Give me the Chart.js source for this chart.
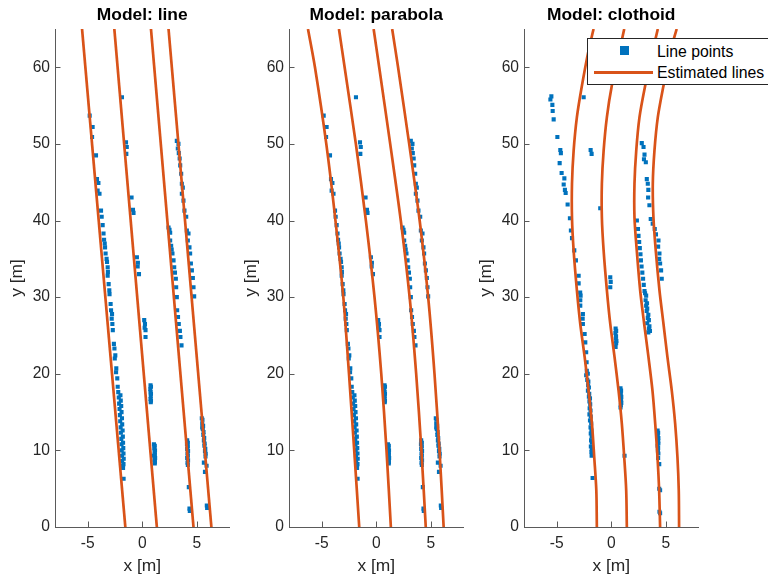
<!DOCTYPE html>
<html>
<head>
<meta charset="utf-8">
<script src="https://cdn.jsdelivr.net/npm/chart.js@4.4.0/dist/chart.umd.min.js"></script>
<style>
  body { margin: 0; width: 768px; height: 583px; overflow: hidden; background: #fff; position: relative;
         font-family: "Liberation Sans", Arial, Helvetica, sans-serif; }
  canvas { position: absolute; top: 0; }
  #legend { position: absolute; left: 587px; top: 38px; width: 200px; height: 47px; box-sizing: border-box;
            border: 1px solid #262626; background: #fff; font-size: 15.8px; color: #000; }
  #legend .mk { position: absolute; left: 32px; top: 7px; width: 9px; height: 9px; background: #0072BD; }
  #legend .ln { position: absolute; left: 6px; top: 32px; width: 59px; height: 2.7px; background: #D95319; }
  #legend .lbl { position: absolute; left: 69px; line-height: 18px; white-space: nowrap; }
</style>
</head>
<body>
<canvas id="plotLine" width="234" height="583" style="left:0"></canvas>
<canvas id="plotParabola" width="234" height="583" style="left:234px"></canvas>
<canvas id="plotClothoid" width="299" height="583" style="left:469px"></canvas>
<div id="legend">
  <span class="mk"></span><span class="lbl" style="top:3.5px">Line points</span>
  <span class="ln"></span><span class="lbl" style="top:24.5px">Estimated lines</span>
</div>
<script>
// ---------------------------
// Data
// ---------------------------
const xTicks = [-5, 0, 5];
const yTicks = [0, 10, 20, 30, 40, 50, 60];

// detected lane points, used by the line and parabola fits
const scanX = [
  -4.82,-4.55,-4.60,-4.24,-4.15,-4.02,-4.09,-3.92,-3.78,-3.72,-3.63,-3.55,-3.50,-3.44,-3.41,-3.36,-3.27,-3.23,-3.17,-3.15,
  -3.17,-3.08,-3.02,-3.00,-2.90,-2.86,-2.77,-2.80,-2.74,-2.70,-2.60,-2.55,-2.47,-2.52,-2.38,-2.40,-2.29,-2.25,-2.20,-2.15,
  -2.12,-2.08,-2.05,-2.02,-1.98,-1.96,-1.92,-1.90,-1.88,-1.86,-1.84,-1.83,-1.71,
  -2.00,-1.97,-1.93,-1.90,-1.86,-1.84,-1.80,-1.78,-1.76,-1.74,-1.72,-1.70,-1.72,-1.76,
  -1.86,-1.49,-1.42,-1.46,-0.98,-0.85,-0.80,-0.49,-0.40,-0.42,-0.30,0.18,0.25,0.22,0.30,0.30,
  0.76,0.74,0.76,0.78,0.76,0.78,0.80,0.80,0.80,1.07,1.10,1.13,1.08,1.12,1.15,1.15,1.17,1.16,1.18,1.16,
  2.41,2.50,2.56,2.56,2.65,2.70,2.77,2.87,2.93,3.00,3.08,3.11,3.17,3.20,3.28,3.35,3.45,3.50,3.60,
  4.12,4.10,4.12,4.15,4.12,4.15,4.18,4.18,4.20,4.18,4.20,4.18,4.27,4.33,4.36,
  3.17,3.32,3.26,3.35,3.43,3.48,3.57,3.63,3.72,3.63,3.78,3.87,4.03,4.09,4.24,4.18,4.33,4.39,4.46,4.55,
  4.64,4.70,4.76,5.46,5.50,5.55,5.60,5.65,5.70,5.75,5.80,5.65,5.90,5.75,5.92,5.95,
  5.52,5.58,5.62,5.68,5.72,5.78,5.82,5.50
];
const scanY = [
  53.7,52.2,50.9,48.5,45.4,44.9,43.9,43.5,41.3,40.5,39.4,38.3,37.5,37.0,36.5,35.7,35.0,34.6,33.9,33.3,
  32.8,31.7,30.9,30.4,29.1,28.3,27.8,27.2,26.5,25.7,23.9,23.3,22.4,22.0,20.7,20.2,19.4,18.3,17.6,16.9,
  16.1,15.4,14.6,13.8,13.0,12.3,11.5,10.8,10.0,9.3,8.6,8.0,6.3,
  17.2,16.5,15.8,15.0,14.2,13.4,12.6,11.8,11.0,10.3,9.6,8.9,8.2,7.7,
  56.1,50.2,49.6,48.7,43.0,41.4,41.0,35.2,34.5,34.0,33.0,27.0,26.5,26.0,25.7,24.8,
  18.5,18.0,17.6,17.1,16.7,16.3,18.3,17.4,16.5,10.8,10.3,9.8,9.3,8.8,8.3,10.6,10.0,9.5,9.0,8.5,
  39.1,38.8,38.4,37.4,36.7,36.2,35.7,34.8,33.9,33.2,32.4,31.3,30.0,28.3,27.4,26.5,25.6,24.8,23.7,
  11.3,10.8,10.2,9.6,9.0,8.4,11.0,10.5,9.9,9.3,8.7,8.1,5.2,2.4,2.1,
  50.4,50.0,49.4,48.8,48.1,47.2,46.1,44.8,44.3,43.5,42.6,41.3,40.5,38.7,38.3,37.4,36.5,35.7,34.4,33.5,
  32.5,31.3,30.1,14.2,13.5,12.8,12.0,11.3,10.6,9.9,9.2,8.4,8.0,7.2,2.8,2.5,
  14.0,13.2,12.4,11.6,10.9,10.2,9.6,13.0
];

// lane points as used by the clothoid fit
const clothScanX = [
  -5.49,-5.58,-5.40,-5.37,-5.28,-4.94,-4.67,-4.62,-4.73,-4.55,-4.30,-4.36,-4.25,-4.18,-4.00,-3.79,-3.70,-3.60,-3.39,-3.24,
  -2.99,-2.99,-2.85,-2.81,-2.84,-2.84,-2.60,-2.62,-2.60,-2.44,-2.38,-2.30,-2.26,-2.24,-2.30,-2.20,-2.12,-2.14,-2.05,-2.00,
  -1.98,-2.00,-1.95,-1.90,-1.88,-1.85,-1.87,-1.82,-1.80,-1.71,
  -2.15,-2.10,-2.05,-2.02,-1.95,-1.93,-1.90,-1.88,-1.84,-1.82,-1.80,-1.78,-1.78,-1.76,
  -2.53,-1.89,-1.80,-1.01,-0.09,-0.05,-0.09,0.40,0.38,0.42,0.45,0.40,0.45,0.44,0.47,
  0.85,0.88,0.90,0.85,0.90,0.92,0.92,0.88,1.22,
  2.35,2.45,2.50,2.56,2.62,2.68,2.72,2.78,2.85,2.92,2.98,3.05,3.10,3.15,3.20,3.25,3.35,3.30,3.45,3.40,
  3.20,3.28,3.30,3.40,3.45,3.50,3.55,
  4.25,4.27,4.30,4.25,4.28,4.30,4.40,4.40,4.48,4.42,4.48,4.30,4.32,4.32,4.30,4.32,
  2.80,2.96,3.05,3.00,3.17,3.26,3.35,3.40,3.38,3.50,3.62,3.80,3.99,4.10,4.33,4.30,4.42,4.40,4.48,4.57,4.63
];
const clothScanY = [
  56.2,55.8,55.1,54.3,53.2,50.9,49.2,48.8,47.5,46.2,45.5,44.7,44.0,43.6,42.1,40.3,38.7,37.7,36.1,34.8,
  32.8,31.8,30.6,30.2,29.6,28.9,27.8,27.2,26.5,25.2,24.1,22.8,21.5,20.4,19.8,19.2,18.5,17.8,17.0,16.4,
  15.5,14.7,13.9,13.0,12.2,11.3,10.5,9.8,9.3,6.4,
  20.0,19.0,18.2,17.4,16.8,16.0,15.2,14.4,13.5,12.6,11.8,11.0,10.2,9.6,
  56.1,49.2,48.7,41.6,32.6,32.0,31.3,25.9,25.3,24.6,24.0,23.5,25.6,24.9,24.3,
  18.1,17.4,16.6,15.6,17.8,17.0,16.2,15.9,9.3,
  40.0,38.9,38.0,37.2,36.4,35.6,34.8,34.0,33.2,32.4,31.6,30.8,30.5,29.6,28.9,28.2,27.3,26.6,25.9,25.4,
  30.2,29.2,28.5,27.7,27.0,26.2,25.6,
  12.6,11.9,11.2,10.6,10.0,9.0,8.2,5.0,4.8,2.0,1.8,12.3,11.6,10.9,10.3,9.6,
  50.1,49.6,48.6,48.0,47.6,45.4,44.8,44.0,43.0,42.0,40.2,39.6,38.9,38.2,37.4,36.6,35.7,35.0,34.4,33.5,32.4
];

// estimated lanes: x for each lane at the listed y values
const lineY = [0, 65];
const lineX = [
  [-1.55, -5.52],
  [1.34, -2.56],
  [4.70, 0.80],
  [6.34, 2.41]
];
const parabolaY = [0, 10, 20, 30, 40, 50, 60, 65];
const parabolaX = [
  [-1.56, -2.02, -2.50, -3.02, -3.74, -4.58, -5.62, -6.26],
  [1.34, 0.94, 0.46, -0.16, -0.95, -1.87, -2.90, -3.42],
  [4.54, 4.14, 3.66, 3.06, 2.25, 1.28, 0.27, -0.24],
  [6.18, 5.80, 5.34, 4.76, 3.98, 3.02, 2.00, 1.46]
];
const clothoidY = [0, 4.8, 9.1, 13.5, 17.8, 22.2, 26.5, 30.9, 36.1, 40.4, 44.8, 49.1, 53.5, 57.6, 62.2, 65];
const clothoidX = [
  [-1.32, -1.37, -1.56, -1.77, -2.08, -2.44, -2.84, -3.15, -3.45, -3.60, -3.60, -3.45, -3.15, -2.69, -2.08, -1.62],
  [1.43, 1.37, 1.19, 0.97, 0.67, 0.30, -0.09, -0.40, -0.70, -0.86, -0.86, -0.70, -0.40, 0.05, 0.76, 1.19],
  [4.48, 4.39, 4.24, 4.03, 3.78, 3.41, 3.02, 2.65, 2.34, 2.13, 2.13, 2.29, 2.59, 3.11, 3.81, 4.27],
  [6.22, 6.19, 6.07, 5.86, 5.55, 5.15, 4.79, 4.42, 4.08, 3.87, 3.81, 3.96, 4.27, 4.79, 5.45, 6.00]
];

// ---------------------------
// Styling
// ---------------------------
const pointBlue = '#0072BD';
const laneOrange = '#D95319';
const axisColor = '#5a5a5a';
const textColor = '#262626';
const fontFamily = '"Liberation Sans", Arial, Helvetica, sans-serif';
const plotWidth = 174.5;
const yAxisWidth = 55;
const xAxisHeight = 56;
const plotTop = 29;

// MATLAB-style ticks pointing into the axes
const inwardTicks = {
  id: 'inwardTicks',
  afterDraw(chart) {
    const {ctx, chartArea, scales: {x, y}} = chart;
    ctx.save();
    ctx.strokeStyle = axisColor;
    ctx.lineWidth = 1;
    ctx.beginPath();
    x.ticks.forEach(t => {
      const px = Math.round(x.getPixelForValue(t.value)) + 0.5;
      ctx.moveTo(px, chartArea.bottom);
      ctx.lineTo(px, chartArea.bottom - 5.5);
    });
    y.ticks.forEach(t => {
      const py = Math.round(y.getPixelForValue(t.value)) + 0.5;
      ctx.moveTo(chartArea.left, py);
      ctx.lineTo(chartArea.left + 5.5, py);
    });
    ctx.stroke();
    ctx.restore();
  }
};

// title centred over the axes rather than the whole canvas
const panelTitle = {
  id: 'panelTitle',
  afterDraw(chart, args, opts) {
    const {ctx, chartArea} = chart;
    ctx.save();
    ctx.font = 'bold 17.4px ' + fontFamily;
    ctx.fillStyle = '#000';
    ctx.textAlign = 'center';
    ctx.textBaseline = 'middle';
    ctx.fillText(opts.text, (chartArea.left + chartArea.right) / 2, 15.5);
    ctx.restore();
  }
};

function pairs(xs, ys) {
  return xs.map((v, i) => ({x: v, y: ys[i]}));
}

function laneDatasets(ys, lanes, tension) {
  return lanes.map(xs => ({
    data: pairs(xs, ys),
    showLine: true,
    borderColor: laneOrange,
    borderWidth: 2.7,
    pointRadius: 0,
    tension: tension,
    order: 0
  }));
}

function drawPanel(id, title, ptsX, ptsY, lanes, canvasWidth) {
  const datasets = lanes.concat([{
    data: pairs(ptsX, ptsY),
    pointStyle: 'rect',
    pointRadius: 2.9,
    borderWidth: 0,
    backgroundColor: pointBlue,
    order: 1
  }]);

  new Chart(document.getElementById(id), {
    type: 'scatter',
    data: {datasets},
    plugins: [inwardTicks, panelTitle],
    options: {
      responsive: false,
      animation: false,
      devicePixelRatio: 1,
      events: [],
      layout: {padding: {left: 0, top: plotTop, bottom: 0, right: canvasWidth - yAxisWidth - plotWidth}},
      plugins: {
        legend: {display: false},
        tooltip: {enabled: false},
        title: {display: false},
        panelTitle: {text: title}
      },
      scales: {
        x: {
          type: 'linear', min: -8, max: 8,
          afterBuildTicks: s => { s.ticks = xTicks.map(v => ({value: v})); },
          afterFit: s => { s.height = xAxisHeight; },
          grid: {display: false, drawTicks: false},
          border: {display: true, color: axisColor, width: 1},
          ticks: {color: textColor, padding: 7, font: {family: fontFamily, size: 15.6}},
          title: {display: true, text: 'x [m]', color: textColor,
                  font: {family: fontFamily, size: 17.4}, padding: {top: 0, bottom: 6}}
        },
        y: {
          type: 'linear', min: 0, max: 65,
          afterBuildTicks: s => { s.ticks = yTicks.map(v => ({value: v})); },
          afterFit: s => { s.width = yAxisWidth; },
          grid: {display: false, drawTicks: false},
          border: {display: true, color: axisColor, width: 1},
          ticks: {color: textColor, padding: 5, font: {family: fontFamily, size: 15.6}},
          title: {display: true, text: 'y [m]', color: textColor,
                  font: {family: fontFamily, size: 17.4}, padding: {top: 7, bottom: 0}}
        }
      }
    }
  });
}

drawPanel('plotLine', 'Model: line', scanX, scanY, laneDatasets(lineY, lineX, 0), 234);
drawPanel('plotParabola', 'Model: parabola', scanX, scanY, laneDatasets(parabolaY, parabolaX, 0.3), 234);
drawPanel('plotClothoid', 'Model: clothoid', clothScanX, clothScanY, laneDatasets(clothoidY, clothoidX, 0.3), 299);
</script>
</body>
</html>
